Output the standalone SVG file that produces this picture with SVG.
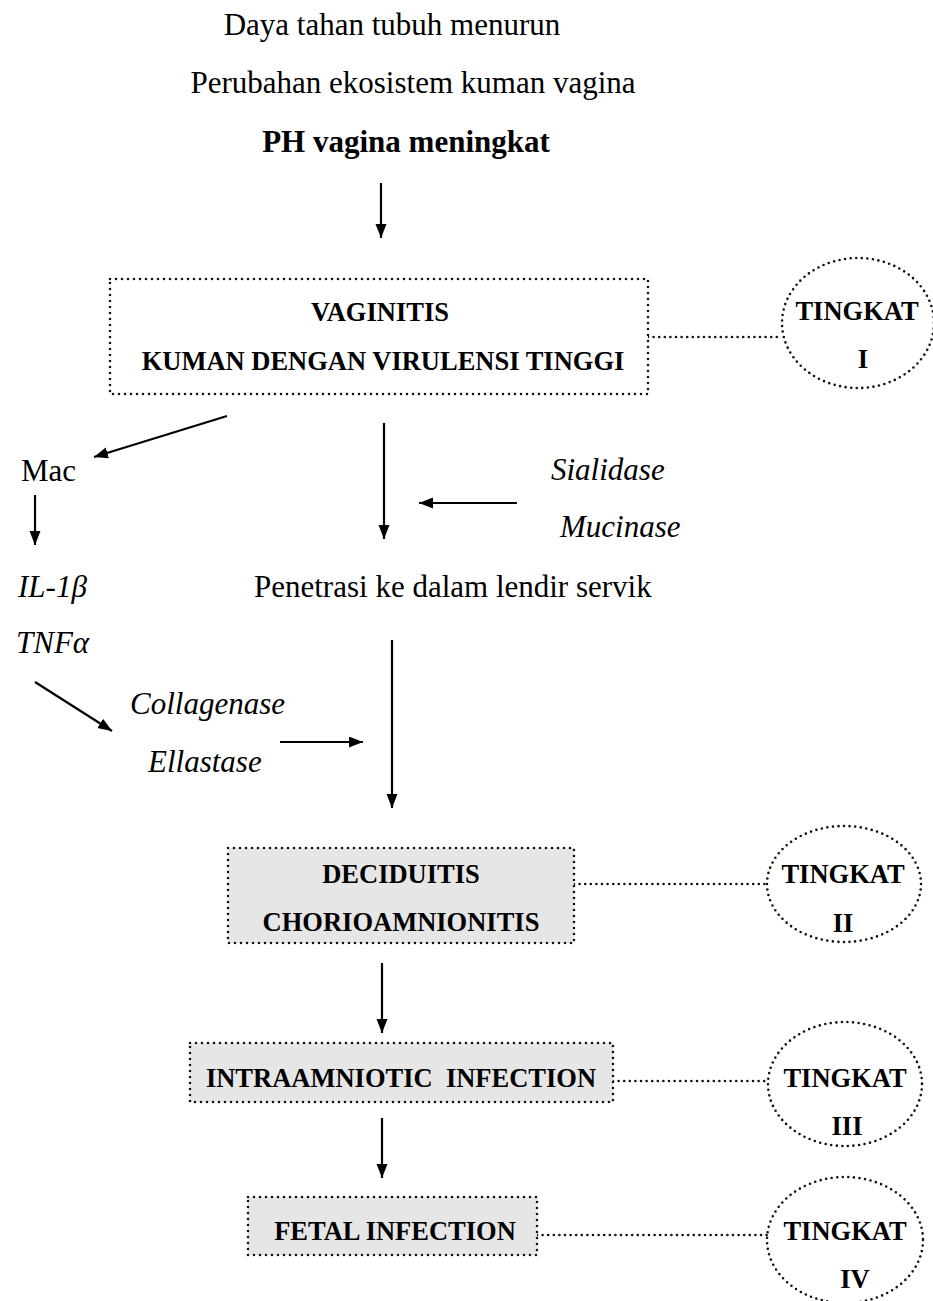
<svg xmlns="http://www.w3.org/2000/svg" width="933" height="1301" viewBox="0 0 933 1301">
<style>
text{font-family:"Liberation Serif","Times New Roman",serif;fill:#000}
.r{font-size:31px}
.i{font-size:31px;font-style:italic}
.hb{font-size:31px;font-weight:bold}
.b{font-size:26.5px;font-weight:bold}
.c{text-anchor:middle}
.arr{stroke:#000;stroke-width:2.2;fill:none;marker-end:url(#ah)}
.dot{stroke:#111;stroke-width:2.6;stroke-dasharray:0 5.6;stroke-linecap:round;fill:none}
.box{stroke:#111;stroke-width:2.6;stroke-dasharray:0 6;stroke-linecap:round}
.plain{fill:#fff}
.grey{fill:#e6e6e6}
</style>
<defs>
<marker id="ah" markerUnits="userSpaceOnUse" markerWidth="16" markerHeight="12" refX="14" refY="5.5" orient="auto">
<path d="M0,0 L14,5.5 L0,11 Z" fill="#000"/>
</marker>
</defs>
<rect width="933" height="1301" fill="#fff"/>

<g id="top-texts">
<text class="r c" x="392" y="35">Daya tahan tubuh menurun</text>
<text class="r c" x="413" y="93">Perubahan ekosistem kuman vagina</text>
<text class="hb c" x="406" y="152">PH vagina meningkat</text>
</g>

<g id="connectors">
<line class="arr" x1="381" y1="183" x2="381" y2="238"/>
<line class="arr" x1="227" y1="416" x2="94" y2="457"/>
<line class="arr" x1="35" y1="495" x2="35" y2="545"/>
<line class="arr" x1="35" y1="682" x2="112" y2="731"/>
<line class="arr" x1="280" y1="742" x2="363" y2="742"/>
<line class="arr" x1="384" y1="423" x2="384" y2="539"/>
<line class="arr" x1="517" y1="503" x2="419" y2="503"/>
<line class="arr" x1="392" y1="640" x2="392" y2="808"/>
<line class="arr" x1="382" y1="963" x2="382" y2="1033"/>
<line class="arr" x1="382" y1="1118" x2="382" y2="1178"/>
<line class="dot" x1="648" y1="337" x2="782" y2="337"/>
<line class="dot" x1="574" y1="884" x2="767" y2="884"/>
<line class="dot" x1="613" y1="1081" x2="767" y2="1081"/>
<line class="dot" x1="537" y1="1235" x2="767" y2="1235"/>
</g>

<g id="vaginitis">
<rect class="box plain" x="110" y="279" width="538" height="115"/>
<text class="b c" x="380" y="321">VAGINITIS</text>
<text class="b c" x="383" y="370">KUMAN DENGAN VIRULENSI TINGGI</text>
</g>

<g id="tingkat1">
<ellipse class="dot" cx="858" cy="323" rx="76" ry="65"/>
<text class="b c" x="857" y="320">TINGKAT</text>
<text class="b c" x="863" y="368">I</text>
</g>

<g id="mac"><text class="r" x="21" y="481">Mac</text></g>
<g id="il1b"><text class="i" x="18" y="597">IL-1β</text></g>
<g id="tnfa"><text class="i" x="16" y="653">TNFα</text></g>
<g id="collagenase"><text class="i" x="130" y="714">Collagenase</text></g>
<g id="ellastase"><text class="i" x="148" y="772">Ellastase</text></g>
<g id="sialidase"><text class="i" x="551" y="480">Sialidase</text></g>
<g id="mucinase"><text class="i" x="560" y="537">Mucinase</text></g>
<g id="penetrasi"><text class="r" x="254" y="597">Penetrasi ke dalam lendir servik</text></g>

<g id="deciduitis">
<rect class="box grey" x="228" y="848" width="346" height="95"/>
<text class="b c" x="401" y="883">DECIDUITIS</text>
<text class="b c" x="401" y="931">CHORIOAMNIONITIS</text>
</g>

<g id="tingkat2">
<ellipse class="dot" cx="844" cy="884" rx="77" ry="58"/>
<text class="b c" x="843" y="883">TINGKAT</text>
<text class="b c" x="843" y="932">II</text>
</g>

<g id="intraamniotic">
<rect class="box grey" x="190" y="1043" width="423" height="59"/>
<text class="b c" x="401" y="1087" xml:space="preserve">INTRAAMNIOTIC  INFECTION</text>
</g>

<g id="tingkat3">
<ellipse class="dot" cx="845" cy="1084" rx="77" ry="62"/>
<text class="b c" x="845" y="1087">TINGKAT</text>
<text class="b c" x="847" y="1135">III</text>
</g>

<g id="fetal">
<rect class="box grey" x="248" y="1197" width="289" height="58"/>
<text class="b c" x="395" y="1240">FETAL INFECTION</text>
</g>

<g id="tingkat4">
<ellipse class="dot" cx="845" cy="1240" rx="78" ry="63"/>
<text class="b c" x="845" y="1240">TINGKAT</text>
<text class="b c" x="855" y="1288">IV</text>
</g>
</svg>
